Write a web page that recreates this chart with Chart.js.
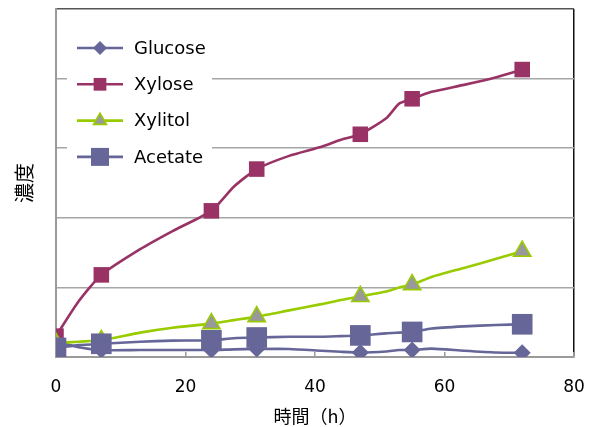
<!DOCTYPE html>
<html>
<head>
<meta charset="utf-8">
<script src="https://cdn.jsdelivr.net/npm/chart.js@4/dist/chart.umd.min.js"></script>
<style>
  html, body { margin: 0; padding: 0; background: #fff; }
  #wrap { width: 591px; height: 427px; }
</style>
</head>
<body>
<div id="wrap"><canvas id="c"></canvas></div>
<script>
// Sampling times (h); markers are shown only at the analysis points.
const hours       = [0, 3.5, 7, 13, 18, 24, 27.5, 31, 36, 41, 44, 47, 51, 53, 55, 58, 63, 68, 72];
const markerHours = [0, 7, 24, 31, 47, 55, 72];

// Concentrations (relative units) for each compound.
const glucose = [0.22, 0.14, 0.10, 0.10, 0.10, 0.10, 0.11, 0.115, 0.115, 0.09, 0.075, 0.065, 0.08, 0.10, 0.10, 0.12, 0.09, 0.065, 0.06];
const xylose  = [0.30, 0.80, 1.18, 1.55, 1.81, 2.10, 2.45, 2.70, 2.89, 3.02, 3.12, 3.20, 3.43, 3.64, 3.71, 3.81, 3.91, 4.02, 4.13];
const xylitol = [0.20, 0.22, 0.24, 0.35, 0.42, 0.48, 0.53, 0.58, 0.67, 0.76, 0.82, 0.87, 0.94, 1.00, 1.04, 1.15, 1.28, 1.41, 1.52];
const acetate = [0.13, 0.17, 0.19, 0.22, 0.235, 0.24, 0.27, 0.28, 0.29, 0.29, 0.30, 0.31, 0.34, 0.35, 0.36, 0.41, 0.44, 0.46, 0.47];

const xTicks = [0, 20, 40, 60, 80];
const yMax = 5;

const labels = ['Glucose', 'Xylose', 'Xylitol', 'Acetate'];

function series(label, values, st) {
  return {
    label: label,
    data: hours.map((h, i) => ({ x: h, y: values[i] })),
    borderColor: st.line,
    borderWidth: 2.6,
    tension: 0.2,
    pointStyle: st.shape,
    pointRadius: hours.map(h => markerHours.includes(h) ? st.r : 0),
    pointHoverRadius: hours.map(h => markerHours.includes(h) ? st.r : 0),
    pointBackgroundColor: st.fill,
    pointBorderColor: st.edge,
    pointBorderWidth: st.edgeW,
    legendRadius: st.lr,
    order: st.order,
    fill: false
  };
}

// Scales keep only the layout padding, not the extra label padding.
function noScalePadding(scale) {
  scale.paddingLeft = 0;
  scale.paddingRight = 0;
  scale.paddingTop = 0;
  scale.paddingBottom = 0;
}

// Legend drawn inside the plot area on a white panel.
const inlineLegend = {
  id: 'inlineLegend',
  beforeDatasetsDraw(chart) {
    const { ctx, chartArea } = chart;
    const L = chartArea.left, T = chartArea.top;
    ctx.save();
    ctx.fillStyle = '#ffffff';
    ctx.fillRect(L + 11, T + 18, 145, 154);
    chart.data.datasets.forEach((ds, i) => {
      const y = T + 39 + i * 36.3;
      ctx.beginPath();
      ctx.strokeStyle = ds.borderColor;
      ctx.lineWidth = ds.borderWidth;
      ctx.moveTo(L + 21, y);
      ctx.lineTo(L + 67, y);
      ctx.stroke();
      ctx.fillStyle = ds.pointBackgroundColor;
      ctx.strokeStyle = ds.pointBorderColor;
      ctx.lineWidth = ds.pointBorderWidth;
      Chart.helpers.drawPoint(ctx, {
        pointStyle: ds.pointStyle,
        radius: ds.legendRadius,
        borderWidth: ds.pointBorderWidth,
        rotation: 0
      }, L + 44, y);
      ctx.fillStyle = '#000';
      ctx.font = '18px "DejaVu Sans"';
      ctx.textBaseline = 'middle';
      ctx.textAlign = 'left';
      ctx.fillText(ds.label, L + 78, y + 1);
    });
    ctx.restore();
  }
};

new Chart(document.getElementById('c'), {
  type: 'line',
  data: {
    datasets: [
      series(labels[0], glucose, { line: '#666699', shape: 'rectRot', r: 8.5, lr: 7,   fill: '#666699', edge: '#666699', edgeW: 0,   order: 4 }),
      series(labels[1], xylose,  { line: '#993366', shape: 'rect',    r: 11,  lr: 9,   fill: '#993366', edge: '#993366', edgeW: 0,   order: 3 }),
      series(labels[2], xylitol, { line: '#99CC00', shape: 'triangle',r: 10,  lr: 7.5, fill: '#999999', edge: '#99CC00', edgeW: 1.6, order: 2 }),
      series(labels[3], acetate, { line: '#666699', shape: 'rect',    r: 14.6,lr: 12.7,fill: '#666699', edge: '#666699', edgeW: 0,   order: 1 })
    ]
  },
  options: {
    responsive: true,
    maintainAspectRatio: false,
    animation: false,
    layout: { autoPadding: false, padding: { top: 9, right: 17, bottom: 0, left: 5 } },
    plugins: {
      legend: { display: false },
      tooltip: { enabled: false }
    },
    scales: {
      x: {
        type: 'linear',
        min: xTicks[0],
        max: xTicks[xTicks.length - 1],
        afterBuildTicks: axis => { axis.ticks = xTicks.map(v => ({ value: v })); },
        afterFit: noScalePadding,
        ticks: {
          color: '#000',
          font: { family: 'DejaVu Sans', size: 17 },
          padding: 25,
          maxRotation: 0
        },
        grid: {
          drawOnChartArea: true,
          color: c => (c.tick && c.tick.value === xTicks[xTicks.length - 1]) ? '#111111' : 'rgba(0,0,0,0)',
          lineWidth: 1.5,
          tickLength: -5,
          tickColor: '#9a9a9a',
          tickWidth: 1.5
        },
        border: { color: '#9a9a9a', width: 2 },
        title: {
          display: true,
          text: '時間（h）',
          color: '#000',
          font: { family: 'Noto Sans CJK JP', size: 18 },
          padding: { top: -17, bottom: 0 }
        }
      },
      y: {
        min: 0,
        max: yMax,
        afterFit: noScalePadding,
        ticks: { display: false, stepSize: 1 },
        grid: {
          color: c => (c.tick && c.tick.value === yMax) ? '#555555' : '#a6a6a6',
          lineWidth: 1.5,
          drawTicks: false
        },
        border: { color: '#9a9a9a', width: 2 },
        title: {
          display: true,
          text: '濃度',
          color: '#000',
          font: { family: 'Noto Sans CJK JP', size: 20 },
          padding: { top: 7, bottom: 20 }
        }
      }
    }
  },
  plugins: [inlineLegend]
});
</script>
</body>
</html>
